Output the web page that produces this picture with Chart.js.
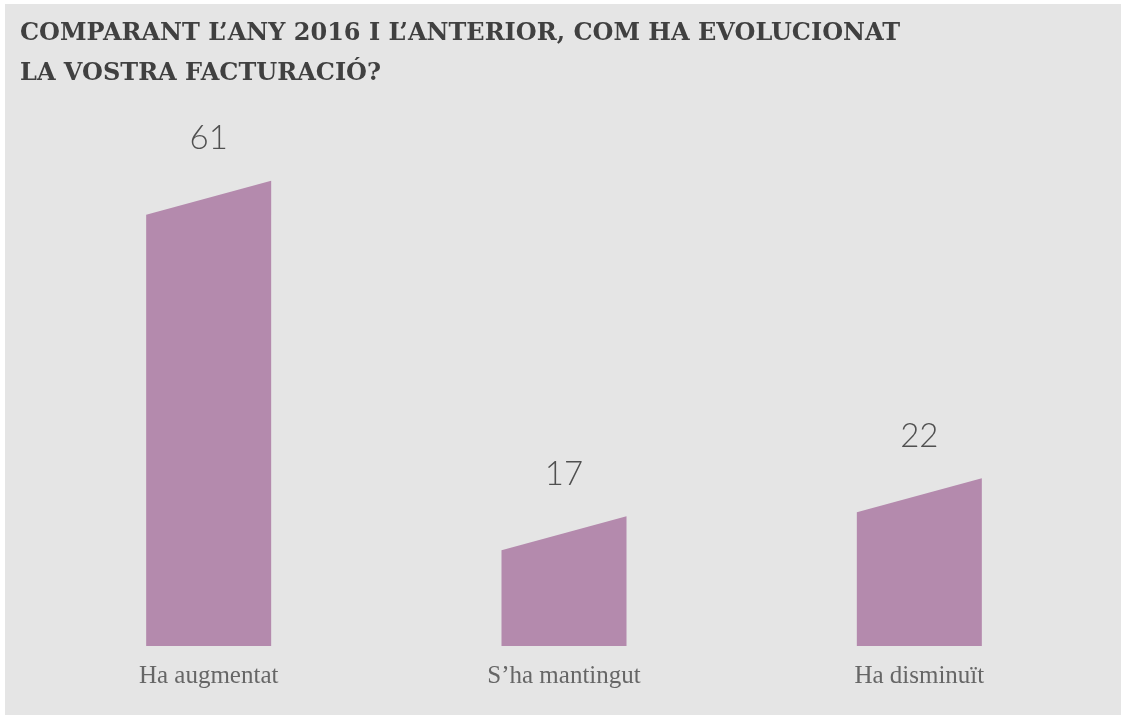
<!DOCTYPE html>
<html>
<head>
<meta charset="utf-8">
<script src="https://cdn.jsdelivr.net/npm/chart.js@4"></script>
<style>
  body { margin: 0; background: #ffffff; }
  #panel {
    position: absolute; left: 5px; top: 4px;
    width: 1116px; height: 711px;
    background: #e5e5e5;
  }
  #title {
    position: absolute; left: 15px; top: 8px;
    font-family: "DejaVu Serif", serif;
    font-weight: bold; font-size: 24px; line-height: 40px;
    color: #404040; margin: 0;
  }
  #chart { position: absolute; left: 0; top: 0; }
</style>
</head>
<body>
<div id="panel">
  <canvas id="chart" width="1116" height="711"></canvas>
  <h2 id="title">COMPARANT L’ANY 2016 I L’ANTERIOR, COM HA EVOLUCIONAT<br>LA VOSTRA FACTURACIÓ?</h2>
</div>
<script>
const categories = ["Ha augmentat", "S’ha mantingut", "Ha disminuït"];
const values = [61, 17, 22];

// Bars with a slanted top: left corner sits lower than the right one
const slantedBars = {
    id: 'slantedBars',
    beforeDatasetsDraw(chart) {
        const ctx = chart.ctx;
        const slant = 34;
        chart.getDatasetMeta(0).data.forEach(bar => {
            const left = bar.x - bar.width / 2;
            const right = bar.x + bar.width / 2;
            ctx.save();
            ctx.fillStyle = '#b48aad';
            ctx.beginPath();
            ctx.moveTo(left, bar.base);
            ctx.lineTo(left, bar.y + slant);
            ctx.lineTo(right, bar.y);
            ctx.lineTo(right, bar.base);
            ctx.closePath();
            ctx.fill();
            ctx.restore();
        });
        return false;
    }
};

// Value labels above each bar
const valueLabels = {
    id: 'valueLabels',
    afterDraw(chart) {
        const ctx = chart.ctx;
        const data = chart.data.datasets[0].data;
        ctx.save();
        ctx.font = '300 33px Lato, "DejaVu Sans", sans-serif';
        ctx.fillStyle = '#505050';
        ctx.textAlign = 'center';
        ctx.textBaseline = 'middle';
        chart.getDatasetMeta(0).data.forEach((bar, i) => {
            ctx.fillText(String(data[i]), bar.x, bar.y - 42);
        });
        ctx.restore();
    }
};

new Chart(document.getElementById('chart').getContext('2d'), {
    type: 'bar',
    data: {
        labels: categories,
        datasets: [{
            data: values,
            backgroundColor: '#b48aad',
            barThickness: 125
        }]
    },
    options: {
        responsive: false,
        animation: false,
        layout: { padding: { left: 26, right: 24, top: 108, bottom: 9 } },
        plugins: {
            legend: { display: false },
            tooltip: { enabled: false }
        },
        scales: {
            x: {
                grid: { display: false, drawTicks: false },
                border: { display: false },
                ticks: {
                    padding: 15,
                    maxRotation: 0,
                    color: '#666666',
                    font: { family: '"Liberation Serif", serif', size: 25, lineHeight: 1.2 }
                }
            },
            y: {
                display: false,
                min: 0,
                max: 70
            }
        }
    },
    plugins: [slantedBars, valueLabels]
});
</script>
</body>
</html>
